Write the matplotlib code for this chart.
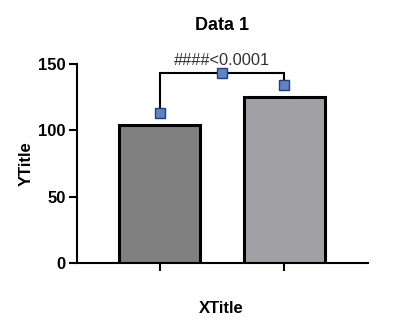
import matplotlib.pyplot as plt

plt.rcParams['font.family'] = ['Liberation Sans', 'DejaVu Sans']

categories = ["Group 1", "Group 2"]
bar_values = [104, 125]
point_values = [113, 134]
bracket_y = 143
p_text = "####<0.0001"
bar_colors = ['#808080', '#A1A0A4']

fig = plt.figure(figsize=(4.02, 3.2), dpi=100)
ax = fig.add_axes([77 / 402, 1 - 263.3 / 320, (368 - 77) / 402, (263.3 - 64) / 320])

x = list(range(len(categories)))
ax.bar(x, bar_values, width=0.653, color=bar_colors, edgecolor='black', linewidth=2.2, zorder=2)

# bracket between groups
ax.plot([x[0], x[0], x[1], x[1]], [point_values[0], bracket_y, bracket_y, point_values[1]],
        color='black', lw=1.5, zorder=3, solid_joinstyle='miter')
mk = dict(marker='s', ms=7.5, mfc='#5F84C4', mec='#1F3F80', mew=1.0, ls='none', zorder=4)
ax.plot(x, point_values, **mk)
ax.plot([(x[0] + x[1]) / 2], [bracket_y], **mk)
ax.text((x[0] + x[1]) / 2, 146.8, p_text, ha='center', va='bottom', fontsize=11.8, color='#333333')

ax.set_xlim(-0.669, 1.677)
ax.set_ylim(0, 150)
ax.set_yticks([0, 50, 100, 150])
ax.set_xticks(x)
ax.set_xticklabels([])
for s in ['top', 'right']:
    ax.spines[s].set_visible(False)
for s in ['left', 'bottom']:
    ax.spines[s].set_linewidth(1.5)
ax.tick_params(width=1.5, length=6, labelsize=12, pad=2)
for lab in ax.get_yticklabels():
    lab.set_fontweight('bold')

ax.set_title("Data 1", fontsize=13, fontweight='bold', y=1.15, va='center')
ax.set_xlabel("XTitle", fontsize=12, fontweight='bold', va='center')
ax.xaxis.set_label_coords(0.495, -0.228)
ax.set_ylabel("YTitle", fontsize=12, fontweight='bold', va='center')
ax.yaxis.set_label_coords(-0.175, 0.5)

fig.savefig("out.png", dpi=100)
